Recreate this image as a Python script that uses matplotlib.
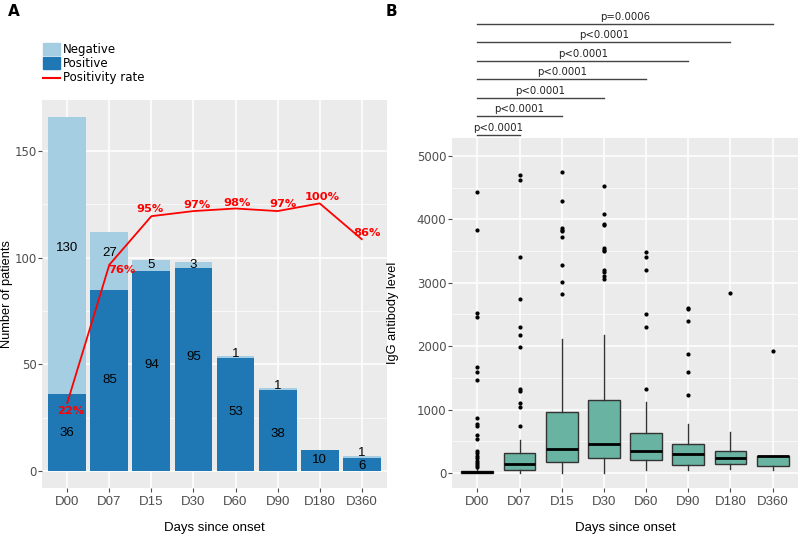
import matplotlib
matplotlib.use("Agg")
import matplotlib.pyplot as plt
from matplotlib.patches import Rectangle
from matplotlib.lines import Line2D
import numpy as np

# ---------------- data ----------------
days = ["D00", "D07", "D15", "D30", "D60", "D90", "D180", "D360"]
positive = [36, 85, 94, 95, 53, 38, 10, 6]
negative = [130, 27, 5, 3, 1, 1, 0, 1]
positivity_pct = [22, 76, 95, 97, 98, 97, 100, 86]

# IgG box statistics
igg_q1 = [0, 53, 176, 229, 207, 132, 145, 108]
igg_med = [20, 149, 378, 452, 340, 303, 238, 262]
igg_q3 = [35, 319, 963, 1144, 627, 455, 349, 275]
igg_lo = [0, 0, 0, 0, 40, 40, 65, 50]
igg_hi = [80, 521, 2120, 2170, 1118, 772, 646, 275]
igg_out_D00 = [4440, 3830, 2530, 2460, 1670, 1600, 1460, 860, 780, 740, 600,
               530, 345, 320, 260, 230, 185, 150, 120, 100]
igg_out_D07 = [4700, 4620, 3400, 2740, 2300, 2170, 1990, 1320, 1290, 1110, 1040, 740]
igg_out_D15 = [4740, 4290, 3870, 3840, 3810, 3730, 3280, 3020, 2820]
igg_out_D30 = [4530, 4080, 3920, 3910, 3550, 3520, 3500, 3200, 3170, 3100, 3060]
igg_out_D60 = [3490, 3400, 3200, 2500, 2300, 1330]
igg_out_D90 = [2600, 2590, 2390, 1880, 1600, 1230]
igg_out_D180 = [2840]
igg_out_D360 = [1920]
igg_outliers = [igg_out_D00, igg_out_D07, igg_out_D15, igg_out_D30,
                igg_out_D60, igg_out_D90, igg_out_D180, igg_out_D360]

# significance comparisons: D00 vs group index
sig_targets = [1, 2, 3, 4, 5, 6, 7]
sig_labels = ["p<0.0001", "p<0.0001", "p<0.0001", "p<0.0001",
              "p<0.0001", "p<0.0001", "p=0.0006"]

# ---------------- style ----------------
W, H = 800, 537
fig = plt.figure(figsize=(W / 100, H / 100), dpi=100)
BG = "#EBEBEB"
NEG_C = "#A6CEE3"
POS_C = "#1F78B4"
BOX_C = "#69B3A2"
TICK_C = "#4D4D4D"
ARIAL = "Liberation Sans"


def px_axes(x0, y0, x1, y1):
    return fig.add_axes([x0 / W, 1 - y1 / H, (x1 - x0) / W, (y1 - y0) / H])


def gg_style(ax):
    ax.set_facecolor(BG)
    for s in ax.spines.values():
        s.set_visible(False)
    ax.grid(True, which="major", color="white", linewidth=1.1)
    ax.grid(True, which="minor", axis="y", color="white", linewidth=0.5)
    ax.set_axisbelow(True)
    ax.tick_params(axis="both", which="major", length=3, color=TICK_C, width=0.8)
    ax.tick_params(axis="both", which="minor", length=0)
    ax.tick_params(axis="y", labelsize=8.5, labelcolor=TICK_C, pad=1)
    ax.tick_params(axis="x", labelsize=9.5, labelcolor=TICK_C, pad=3)
    for lab in ax.get_xticklabels():
        lab.set_fontfamily(ARIAL)


x = np.arange(len(days))

# ---------------- Panel A ----------------
axA = px_axes(42, 100, 387, 488)
axA.bar(x, positive, width=0.9, color=POS_C, zorder=2)
axA.bar(x, negative, bottom=positive, width=0.9, color=NEG_C, zorder=2)
axA.set_xlim(-0.6, len(days) - 0.4)
axA.set_ylim(-8, 174)
axA.set_yticks([0, 50, 100, 150])
axA.set_yticks([25, 75, 125], minor=True)
axA.set_xticks(x)
axA.set_xticklabels(days)
gg_style(axA)
axA.set_xlabel("Days since onset", fontfamily=ARIAL, fontsize=9.5, labelpad=10)
axA.set_ylabel("Number of patients", fontfamily=ARIAL, fontsize=9.2)
axA.yaxis.set_label_coords(-0.083, 0.5)

# line for positivity rate (scaled onto count axis)
rate_scale, rate_off = 1.2, 5.5
line_y = [p * rate_scale + rate_off for p in positivity_pct]
axA.plot(x, line_y, color="red", linewidth=1.3, zorder=4)
pct_dx = [3, 13, -1, 4, 2, 5, 3, 5]
pct_dy = [-8, -5, 7, 6, 6, 7, 6, 6]
for i, p in enumerate(positivity_pct):
    axA.annotate(f"{p}%", (x[i], line_y[i]), xytext=(pct_dx[i] * 0.72, pct_dy[i] * 0.72),
                 textcoords="offset points", ha="center", va="center",
                 color="red", fontweight="bold", fontsize=8.2, zorder=5)

pos_off = [0, 0, 2.5, 6, 1, -1.5, 0, -0.5]
neg_off = [3.5, 3.5, 0, 0, 1.5, 1.5, 0, 2]
for i in range(len(days)):
    axA.text(x[i], positive[i] / 2 + pos_off[i], str(positive[i]), ha="center",
             va="center", fontsize=9.5, fontfamily=ARIAL, zorder=3)
    if negative[i] > 0:
        axA.text(x[i], positive[i] + negative[i] / 2 + neg_off[i], str(negative[i]),
                 ha="center", va="center", fontsize=9.5, fontfamily=ARIAL, zorder=3)

# manual legend (figure pixel coords)
def fig_rect(x0, y0, w, h, color):
    fig.add_artist(Rectangle((x0 / W, 1 - (y0 + h) / H), w / W, h / H,
                             transform=fig.transFigure, color=color))

fig_rect(43, 43, 17, 12, NEG_C)
fig_rect(43, 57, 17, 12, POS_C)
fig.add_artist(Line2D([43 / W, 60 / W], [1 - 78 / H, 1 - 78 / H],
                      transform=fig.transFigure, color="red", linewidth=1.5))
for txt, yy in [("Negative", 49), ("Positive", 63.5), ("Positivity rate", 78)]:
    fig.text(63 / W, 1 - yy / H, txt, fontsize=8.5, va="center", ha="left")

# ---------------- Panel B ----------------
axB = px_axes(452, 138, 798, 488)
stats = []
for i in range(len(days)):
    stats.append(dict(med=igg_med[i], q1=igg_q1[i], q3=igg_q3[i],
                      whislo=igg_lo[i], whishi=igg_hi[i], fliers=igg_outliers[i]))
axB.bxp(stats, positions=x, widths=0.75, patch_artist=True, showcaps=False,
        boxprops=dict(facecolor=BOX_C, edgecolor="#333333", linewidth=1.0),
        medianprops=dict(color="black", linewidth=2.0),
        whiskerprops=dict(color="#333333", linewidth=1.0),
        flierprops=dict(marker="o", markersize=2.0, markerfacecolor="black",
                        markeredgecolor="black", linestyle="none"),
        zorder=3)
axB.set_xlim(-0.6, len(days) - 0.4)
axB.set_ylim(-237, 5284)
axB.set_yticks([0, 1000, 2000, 3000, 4000, 5000])
axB.set_yticks([500, 1500, 2500, 3500, 4500], minor=True)
axB.set_xticks(x)
axB.set_xticklabels(days)
gg_style(axB)
axB.set_xlabel("Days since onset", fontfamily=ARIAL, fontsize=9.5, labelpad=10)
axB.set_ylabel("IgG antibody level", fontfamily=ARIAL, fontsize=9.2)
axB.yaxis.set_label_coords(-0.153, 0.5)

# significance brackets above panel B
trans = axB.get_xaxis_transform()
for k, (tgt, lab) in enumerate(zip(sig_targets, sig_labels)):
    yfrac = 1.0086 + 0.0529 * k
    axB.plot([x[0], x[tgt]], [yfrac, yfrac], transform=trans, color="#444444",
             linewidth=1.0, clip_on=False)
    axB.text((x[0] + x[tgt]) / 2, yfrac + 0.006, lab, transform=trans, ha="center",
             va="bottom", fontsize=7.3, color="#222222", clip_on=False)

# panel letters
fig.text(8 / W, 1 - 11 / H, "A", fontsize=11, fontweight="bold", va="center")
fig.text(386 / W, 1 - 11 / H, "B", fontsize=11, fontweight="bold", va="center")

fig.savefig("out.png", dpi=100)
